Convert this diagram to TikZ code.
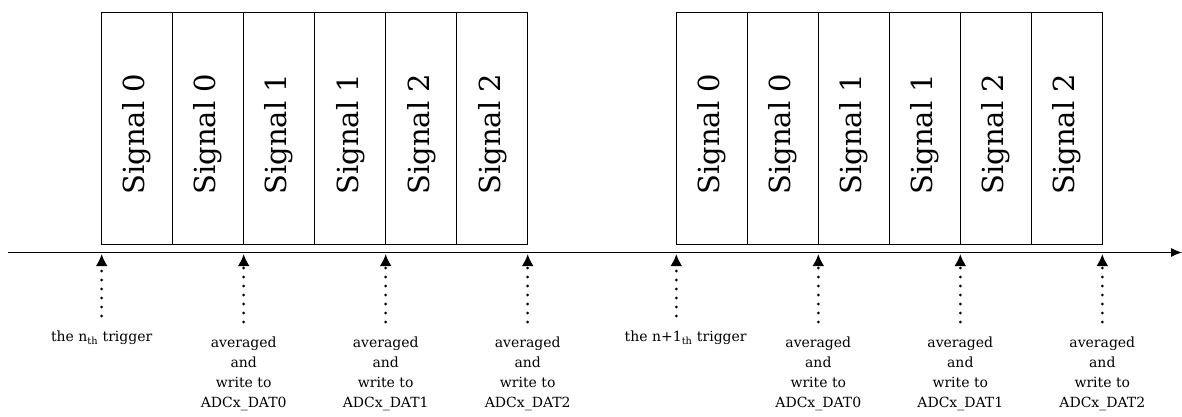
\documentclass[tikz,border=0pt]{standalone}
\usepackage{fontspec}
\setmainfont{DejaVu Serif}
\usepackage{graphicx}
\usetikzlibrary{arrows.meta, positioning}

% 竖排的信号名
\newcommand{\sigtext}[1]{\rotatebox{90}{Signal #1\hspace{12pt}}}

\begin{document}
\begin{tikzpicture}[
  x=1pt, y=1pt,
  >=Latex,
  node distance=0pt,
  cell/.style={
    draw=black,
    line width=0.8pt,
    minimum width=71pt,
    minimum height=232pt,
    inner sep=0pt,
    outer sep=0pt,
    font=\fontsize{29}{34}\selectfont
  },
  axis/.style={-{Latex[length=11pt, width=9pt]}, line width=0.9pt, draw=black},
  trig/.style={
    -{Latex[length=12pt, width=12pt]},
    line width=3pt,
    line cap=round,
    dash pattern=on 0pt off 9pt
  },
  lab/.style={font=\fontsize{14}{20}\selectfont, align=center, inner sep=0pt}
]
\useasboundingbox (0,0) rectangle (1182,416);

% 时间轴
\coordinate (axisL) at (8,163.5);
\coordinate (axisR) at (1182,163.5);
\draw[axis] (axisL) -- (axisR);

% 第 n 次触发：六个采样格
\node[cell] (a1) at (137.2,287.7) {\sigtext{0}};
\node[cell, right=of a1] (a2) {\sigtext{0}};
\node[cell, right=of a2] (a3) {\sigtext{1}};
\node[cell, right=of a3] (a4) {\sigtext{1}};
\node[cell, right=of a4] (a5) {\sigtext{2}};
\node[cell, right=of a5] (a6) {\sigtext{2}};

% 第 n+1 次触发：同样六格
\node[cell, right=148.6pt of a6] (b1) {\sigtext{0}};
\node[cell, right=of b1] (b2) {\sigtext{0}};
\node[cell, right=of b2] (b3) {\sigtext{1}};
\node[cell, right=of b3] (b4) {\sigtext{1}};
\node[cell, right=of b4] (b5) {\sigtext{2}};
\node[cell, right=of b5] (b6) {\sigtext{2}};

% 轴上的箭头位置
\coordinate[below=9.7pt of a1.south west] (t1);
\coordinate[below=9.7pt of a2.south east] (t2);
\coordinate[below=9.7pt of a4.south east] (t3);
\coordinate[below=9.7pt of a6.south east] (t4);
\coordinate[below=9.7pt of b1.south west] (t5);
\coordinate[below=9.7pt of b2.south east] (t6);
\coordinate[below=9.7pt of b4.south east] (t7);
\coordinate[below=9.7pt of b6.south east] (t8);

% 虚线下端
\coordinate[below=62pt of t1] (e1);
\coordinate[below=68pt of t2] (e2);
\coordinate[below=68pt of t3] (e3);
\coordinate[below=68pt of t4] (e4);
\coordinate[below=62pt of t5] (e5);
\coordinate[below=68pt of t6] (e6);
\coordinate[below=68pt of t7] (e7);
\coordinate[below=68pt of t8] (e8);

% 文字说明
\node[lab, below=15pt of e1] (l1) {the n\textsubscript{th} trigger};
\node[lab, below=15pt of e2] (l2) {averaged\\and\\write to\\ADCx\_DAT0};
\node[lab, below=15pt of e3] (l3) {averaged\\and\\write to\\ADCx\_DAT1};
\node[lab, below=15pt of e4] (l4) {averaged\\and\\write to\\ADCx\_DAT2};
\node[lab, below=15pt of e5, xshift=9.4pt] (l5) {the n+1\textsubscript{th} trigger};
\node[lab, below=15pt of e6] (l6) {averaged\\and\\write to\\ADCx\_DAT0};
\node[lab, below=15pt of e7] (l7) {averaged\\and\\write to\\ADCx\_DAT1};
\node[lab, below=15pt of e8] (l8) {averaged\\and\\write to\\ADCx\_DAT2};

% 点线箭头
\draw[trig] (e1) -- (t1);
\draw[trig] (e2) -- (t2);
\draw[trig] (e3) -- (t3);
\draw[trig] (e4) -- (t4);
\draw[trig] (e5) -- (t5);
\draw[trig] (e6) -- (t6);
\draw[trig] (e7) -- (t7);
\draw[trig] (e8) -- (t8);

\end{tikzpicture}
\end{document}
